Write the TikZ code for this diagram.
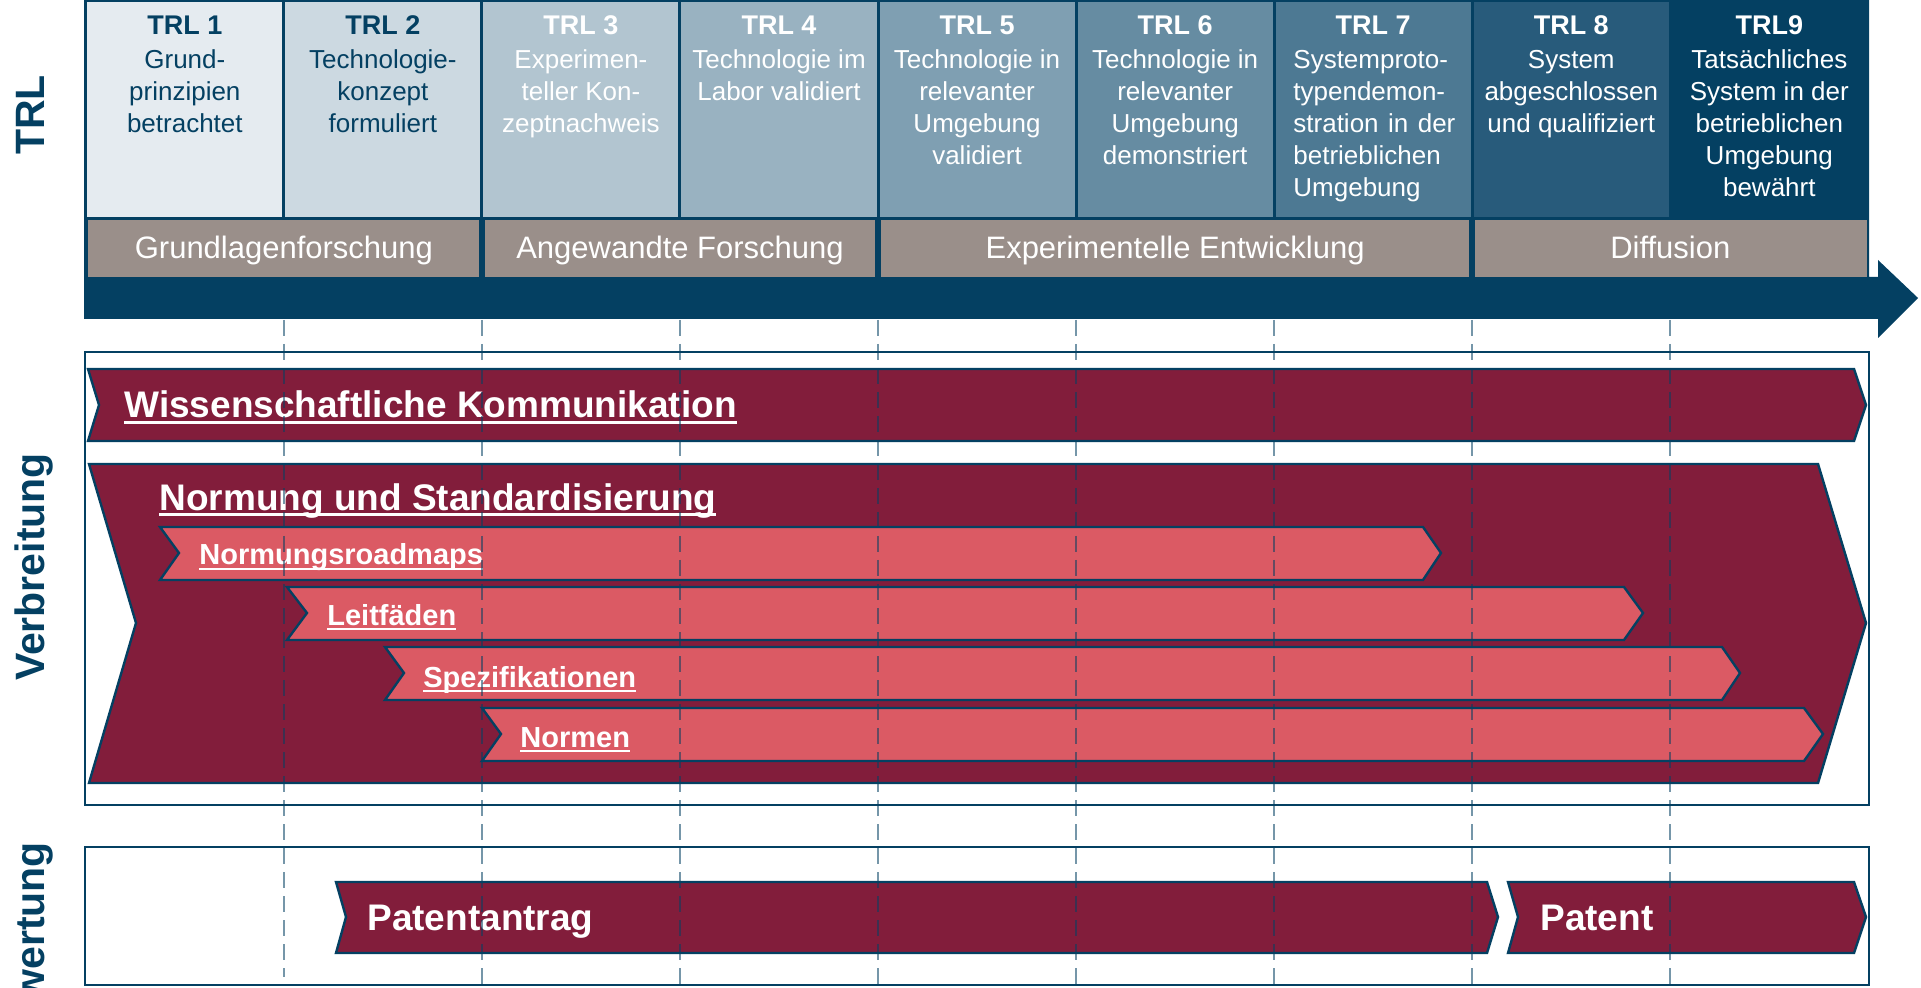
\documentclass[tikz,border=0pt]{standalone}
\usepackage{fontspec}
\setmainfont{Liberation Sans}
\definecolor{trlnavy}{RGB}{4,64,98}
\definecolor{trlgrey}{RGB}{154,143,138}
\definecolor{darkred}{RGB}{130,29,59}
\definecolor{lightred}{RGB}{219,90,100}
\definecolor{tA}{RGB}{229,235,240}
\definecolor{tB}{RGB}{204,217,225}
\definecolor{tC}{RGB}{178,197,208}
\definecolor{tD}{RGB}{153,178,193}
\definecolor{tE}{RGB}{127,159,178}
\definecolor{tF}{RGB}{102,140,162}
\definecolor{tG}{RGB}{77,121,147}
\definecolor{tH}{RGB}{40,91,123}
\definecolor{tI}{RGB}{4,64,98}
\newcommand\ulx[1]{\setbox0\hbox{#1}\rlap{\rule[-0.17em]{\wd0}{0.08em}}\box0}
\newcommand\trlcol[4]{%
  \pgfmathsetmacro\trlcx{85.8+198.06*#1+99.03}
  \node[trltitle,text=#3] (title#1) at (\trlcx,35) {#2};
  \foreach \l [count=\i] in {#4} {\pgfmathsetmacro\trlyy{37+32*\i}\node[trlbody,text=#3] (line#1-\i) at (\trlcx,\trlyy) {\l};}
}
\begin{document}
\begin{tikzpicture}[x=0.5pt,y=-0.5pt,
  chev/.style={draw=trlnavy, line width=1.2pt, line join=miter},
  bigtxt/.style={font=\fontsize{18.5}{22}\selectfont\bfseries, text=white, inner sep=0pt, anchor=base west},
  subtxt/.style={font=\fontsize{14.5}{17}\selectfont\bfseries, text=white, inner sep=0pt, anchor=base west},
  trltitle/.style={font=\fontsize{13.5}{16}\selectfont\bfseries, inner sep=0pt, anchor=base},
  trlbody/.style={font=\fontsize{13}{16}\selectfont, inner sep=0pt, anchor=base},
  bandtxt/.style={font=\fontsize{15.5}{18}\selectfont, text=white, inner sep=0pt, anchor=base},
  side/.style={font=\fontsize{20.5}{24}\selectfont\bfseries, text=trlnavy, inner sep=0pt, anchor=base, rotate=90},
  guide/.style={draw=trlnavy, draw opacity=0.55, line width=1.1pt, dash pattern=on 8pt off 4pt},
  frame/.style={draw=trlnavy, line width=1.2pt}
]
\useasboundingbox (0,0) rectangle (1921,988);
\clip (0,0) rectangle (1921,988);
% navy background + arrow
\fill[trlnavy] (84,0) -- (1869,0) -- (1869,277) -- (1878,277) -- (1878,260) -- (1918,298) -- (1878,338) -- (1878,319) -- (84,319) -- cycle;
% TRL boxes
\foreach \k/\c in {0/tA,1/tB,2/tC,3/tD,4/tE,5/tF,6/tG,7/tH,8/tI} {
  \fill[\c] ({85.8+198.06*\k+1.5},2) rectangle ({85.8+198.06*(\k+1)-1.5},217);
}
% bands
\fill[trlgrey] (87.5,220) rectangle (479,277);
\fill[trlgrey] (485,220) rectangle (875,277);
\fill[trlgrey] (881,220) rectangle (1469,277);
\fill[trlgrey] (1475,220) rectangle (1866.5,277);
\node[bandtxt] (b1) at (283.9,259) {Grundlagenforschung};
\node[bandtxt] (b2) at (680,259) {Angewandte Forschung};
\node[bandtxt] (b3) at (1175.1,259) {Experimentelle Entwicklung};
\node[bandtxt] (b4) at (1670.3,259) {Diffusion};
% TRL texts
\trlcol{0}{TRL 1}{trlnavy}{Grund-,prinzipien,betrachtet}
\trlcol{1}{TRL 2}{trlnavy}{Technologie-,konzept,formuliert}
\trlcol{2}{TRL 3}{white}{Experimen-,teller Kon-,zeptnachweis}
\trlcol{3}{TRL 4}{white}{Technologie im,Labor validiert}
\trlcol{4}{TRL 5}{white}{Technologie in,relevanter,Umgebung,validiert}
\trlcol{5}{TRL 6}{white}{Technologie in,relevanter,Umgebung,demonstriert}
\trlcol{6}{TRL 7}{white}{}
\trlcol{7}{TRL 8}{white}{System,abgeschlossen,und qualifiziert}
\trlcol{8}{TRL9}{white}{Tatsächliches,System in der,betrieblichen,Umgebung,bewährt}
\node[trlbody,text=white,anchor=base west] (line6-1) at (1293,69) {Systemproto-};
\node[trlbody,text=white,anchor=base west] (line6-2) at (1293,101) {typendemon-};
\node[trlbody,text=white,anchor=base west] (line6-3) at (1293,133) {\makebox[81pt][s]{stration in der}};
\node[trlbody,text=white,anchor=base west] (line6-4) at (1293,165) {betrieblichen};
\node[trlbody,text=white,anchor=base west] (line6-5) at (1293,197) {Umgebung};
% side labels
\node[side] (lTRL) at (44,115) {TRL};
\node[side] (lVer) at (44,567) {Verbreitung};
\node[side] (lBew) at (44,948) {Bewertung};
% frames
\draw[frame] (85,352) rectangle (1869,805);
\draw[frame] (85,847) rectangle (1869,985);
% Verbreitung chevrons
\filldraw[chev, fill=darkred] (88,369) -- (1854,369) -- (1866,405) -- (1854,441) -- (88,441) -- (99,405) -- cycle;
\node[bigtxt] (wk) at (124,418) {\ulx{Wissenschaftliche Kommunikation}};
\filldraw[chev, fill=darkred] (89,464) -- (1818,464) -- (1866,623) -- (1818,783) -- (89,783) -- (136,623) -- cycle;
\node[bigtxt] (ns) at (159,510) {\ulx{Normung und Standardisierung}};
\filldraw[chev, fill=lightred] (160,527) -- (1423,527) -- (1441,553) -- (1423,580) -- (160,580) -- (179,553) -- cycle;
\node[subtxt] (nr) at (199,565) {\ulx{Normungsroadmaps}};
\filldraw[chev, fill=lightred] (287,587) -- (1624,587) -- (1643,613) -- (1624,640) -- (287,640) -- (307,613) -- cycle;
\node[subtxt] (lf) at (327,625) {\ulx{Leitfäden}};
\filldraw[chev, fill=lightred] (385,647) -- (1722,647) -- (1740,673) -- (1722,700) -- (385,700) -- (404,673) -- cycle;
\node[subtxt] (sp) at (423,687) {\ulx{Spezifikationen}};
\filldraw[chev, fill=lightred] (482,708) -- (1804,708) -- (1823,734) -- (1804,761) -- (482,761) -- (501,734) -- cycle;
\node[subtxt] (nm) at (520,747) {\ulx{Normen}};
% Bewertung chevrons
\filldraw[chev, fill=darkred] (336,882) -- (1487,882) -- (1498,917) -- (1487,953) -- (336,953) -- (346,917) -- cycle;
\node[bigtxt] (pa) at (367,930) {Patentantrag};
\filldraw[chev, fill=darkred] (1508,882) -- (1854,882) -- (1866,917) -- (1854,953) -- (1508,953) -- (1518,917) -- cycle;
\node[bigtxt] (pt) at (1540,930) {Patent};
% guides
\draw[guide] (283.9,320) -- (283.9,977);
\foreach \k in {2,...,8} {
  \draw[guide] ({85.8+198.06*\k},320) -- ({85.8+198.06*\k},988);
}
\end{tikzpicture}
\end{document}
